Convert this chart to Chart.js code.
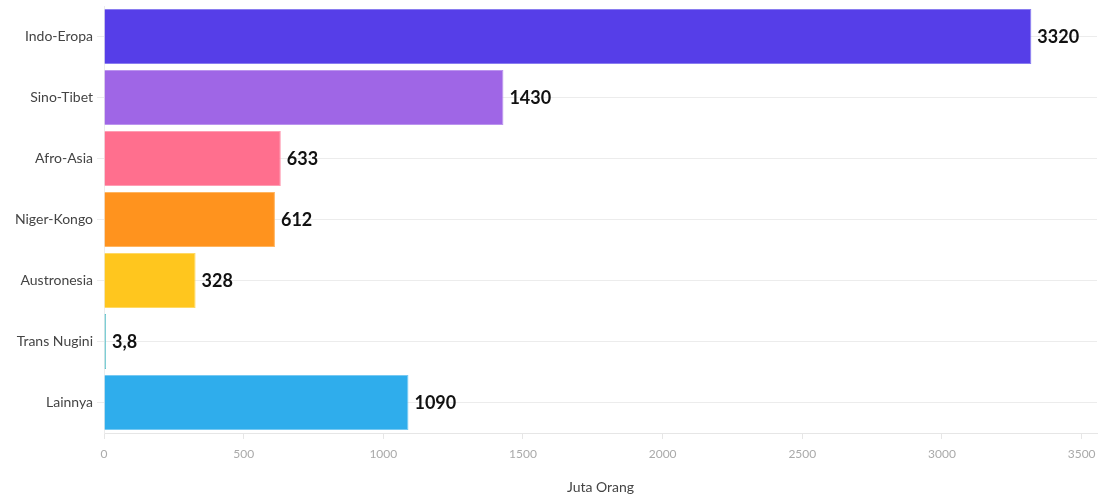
<!DOCTYPE html>
<html>
<head>
<meta charset="utf-8">
<script src="https://cdn.jsdelivr.net/npm/chart.js@4.4.1/dist/chart.umd.min.js"></script>
<style>
  html, body { margin: 0; padding: 0; background: #fff; }
  #wrap { width: 1099px; height: 496px; position: relative; }
</style>
</head>
<body>
<div id="wrap"><canvas id="chart"></canvas></div>
<script>
const families = ['Indo-Eropa', 'Sino-Tibet', 'Afro-Asia', 'Niger-Kongo', 'Austronesia', 'Trans Nugini', 'Lainnya'];
const speakers = [3320, 1430, 633, 612, 328, 3.8, 1090];
const barColors = ['#563ee8', '#9f66e6', '#ff6f8e', '#ff931e', '#ffc61e', '#5fc3cc', '#2fadec'];
const borderColors = ['#8a7df0', '#bb94ee', '#ff9db3', '#ffb560', '#ffd965', '#5fc3cc', '#77c9f2'];
const xTicks = [0, 500, 1000, 1500, 2000, 2500, 3000, 3500];

const fmt = v => String(v).replace('.', ',');

const valueLabels = {
  id: 'valueLabels',
  afterDatasetsDraw(chart) {
    const ctx = chart.ctx;
    const meta = chart.getDatasetMeta(0);
    ctx.save();
    ctx.font = 'bold 18px Lato, "Open Sans", sans-serif';
    ctx.fillStyle = '#111';
    ctx.textAlign = 'left';
    ctx.textBaseline = 'middle';
    meta.data.forEach((bar, i) => {
      ctx.fillText(fmt(speakers[i]), bar.x + 6, bar.y + 1);
    });
    ctx.restore();
  }
};

const ctx = document.getElementById('chart').getContext('2d');
new Chart(ctx, {
  type: 'bar',
  data: {
    labels: families,
    datasets: [{
      data: speakers,
      backgroundColor: barColors,
      borderColor: borderColors,
      borderWidth: 1,
      categoryPercentage: 0.9,
      barPercentage: 1.0,
      minBarLength: 2
    }]
  },
  options: {
    indexAxis: 'y',
    responsive: true,
    maintainAspectRatio: false,
    animation: false,
    layout: { padding: { top: 6, right: 2, left: 0, bottom: 0 } },
    plugins: {
      legend: { display: false },
      tooltip: { enabled: false }
    },
    scales: {
      x: {
        min: 0,
        max: 3555,
        afterBuildTicks: s => { s.ticks = xTicks.map(v => ({ value: v })); },
        afterFit: s => { s.height = 63; s.paddingLeft = 0; s.paddingRight = 0; },
        ticks: {
          color: '#aaa',
          font: { size: 12, family: 'Lato, "Open Sans", sans-serif' },
          padding: 8,
          callback: v => String(v)
        },
        grid: { drawOnChartArea: false, tickLength: 6, color: '#e6e6e6' },
        border: { color: '#e6e6e6' },
        title: {
          display: true,
          text: 'Juta Orang',
          color: '#444',
          font: { size: 14, family: 'Lato, "Open Sans", sans-serif' },
          padding: { top: 20, bottom: 0 }
        }
      },
      y: {
        afterFit: s => { s.width = 104; s.paddingTop = 0; s.paddingBottom = 0; },
        ticks: {
          color: '#444',
          font: { size: 14, family: 'Lato, "Open Sans", sans-serif' },
          padding: 4
        },
        grid: { offset: false, color: '#ececec', tickLength: 7 },
        border: { color: '#ececec' }
      }
    }
  },
  plugins: [valueLabels]
});
</script>
</body>
</html>
